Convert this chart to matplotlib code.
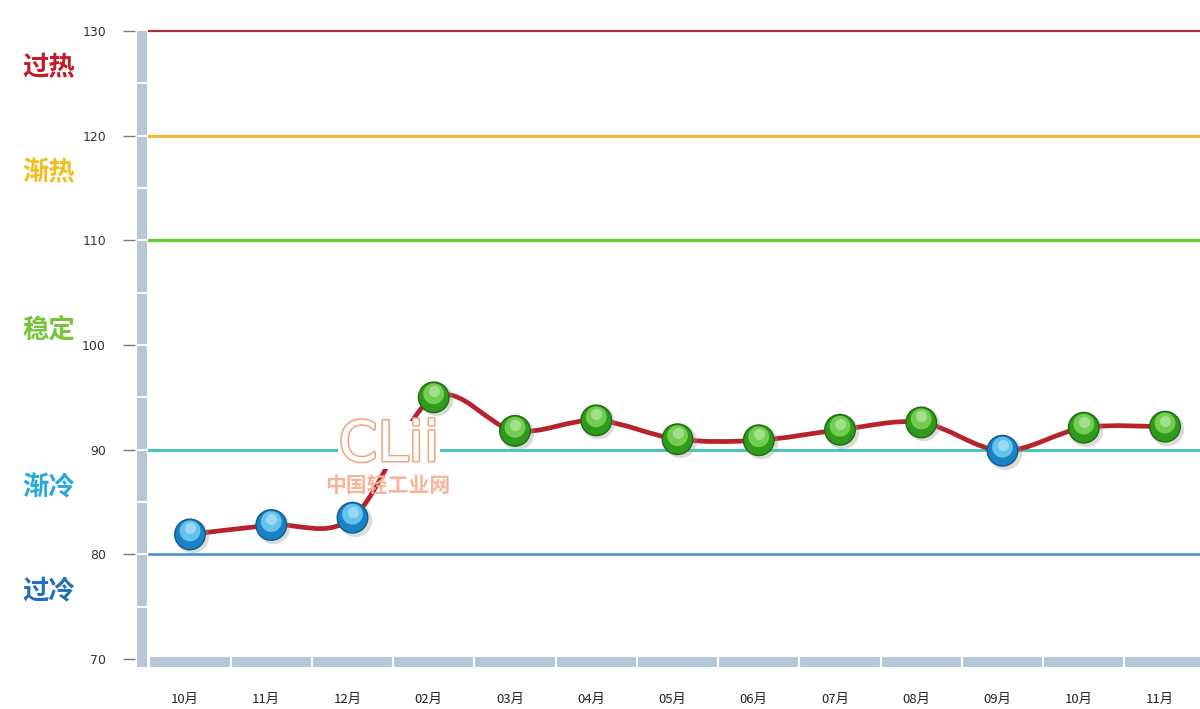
import matplotlib
matplotlib.use("Agg")
import matplotlib.pyplot as plt
import matplotlib.transforms as mtransforms
from matplotlib.path import Path
from matplotlib.patches import PathPatch, Rectangle
import matplotlib.patheffects as pe
import numpy as np

plt.rcParams['font.family'] = ['Noto Sans CJK SC', 'DejaVu Sans']

# ---------------- data ----------------
months = ["10月", "11月", "12月", "02月", "03月", "04月", "05月",
          "06月", "07月", "08月", "09月", "10月", "11月"]
values = [81.9, 82.8, 83.5, 95.0, 91.8, 92.8, 91.0, 90.9, 91.9, 92.6, 89.9, 92.1, 92.2]

level_values = [130, 120, 110, 90, 80]
level_colors = ["#a8323c", "#f5b93a", "#6acb3a", "#4cc4c0", "#3f8fcf"]
level_widths = [1.6, 2.2, 2.4, 2.2, 1.8]

zone_names = ["过热", "渐热", "稳定", "渐冷", "过冷"]
zone_pos = [126.5, 116.5, 101.4, 86.3, 76.4]
zone_colors = ["#c41a2c", "#f0c020", "#76c43a", "#2aa8d8", "#2470b8"]

yticks = [70, 80, 90, 100, 110, 120, 130]

# ---------------- figure ----------------
W, H = 1200, 709
fig = plt.figure(figsize=(W / 100, H / 100), dpi=100)
fig.patch.set_facecolor("white")

ppu = 628 / 60.0  # pixels per y unit
y_bot_px = 659 + 1.5 * ppu
y_top_px = 31 - 1.0 * ppu
ax = fig.add_axes([149 / W, (H - y_bot_px) / H, (W - 149) / W, (y_bot_px - y_top_px) / H])
ax.set_ylim(68.5, 131)
xpu = 81.25
ax.set_xlim(-(190 - 149) / xpu, (1200 - 190) / xpu)
for s in ax.spines.values():
    s.set_visible(False)
ax.set_facecolor("none")

# y ticks (left of the grey bar)
ax.spines['left'].set_position(('outward', 10))
ax.set_yticks(yticks)
ax.set_yticklabels([str(v) for v in yticks])
ax.tick_params(axis='y', length=9, width=1, color="#777777", pad=12,
               labelsize=9, labelcolor="#333333")
for lab in ax.get_yticklabels():
    lab.set_family("DejaVu Sans")

# x ticks
x = np.arange(len(months))
ax.set_xticks(x)
ax.set_xticklabels(months)
ax.tick_params(axis='x', length=0, pad=13, labelsize=9.5, labelcolor="#222222")
for lab in ax.get_xticklabels():
    lab.set_fontweight("medium")
    lab.set_transform(lab.get_transform() + mtransforms.ScaledTranslation(-5 / 100, 0, fig.dpi_scale_trans))

# grey frame bars
bar_col = "#b7c7da"
tr_fx = mtransforms.blended_transform_factory(fig.transFigure, ax.transData)
ax.add_patch(Rectangle((137 / W, 69.6), 10 / W, 130 - 69.6, transform=tr_fx,
                       facecolor=bar_col, edgecolor="none", clip_on=False, zorder=1))
for v in np.arange(75, 130, 5):
    ax.plot([137 / W, 147 / W], [v, v], transform=tr_fx, color="white", lw=1.5,
            clip_on=False, zorder=1.5)
ax.add_patch(Rectangle((137 / W, 69.25), 10 / W, 0.85, transform=tr_fx,
                       facecolor=bar_col, edgecolor="none", clip_on=False, zorder=1))
ax.add_patch(Rectangle((-0.5, 69.25), 14, 0.95, facecolor=bar_col, edgecolor="none",
                       clip_on=True, zorder=1))
for k in range(len(months) + 1):
    ax.plot([k - 0.5, k - 0.5], [69.25, 70.2], color="white", lw=1.5, zorder=1.5)

# level lines
for v, c, lw in zip(level_values, level_colors, level_widths):
    ax.axhline(v, color=c, lw=lw, zorder=2, clip_on=False)

# zone labels
for name, yv, c in zip(zone_names, zone_pos, zone_colors):
    ax.text(22 / W, yv, name, transform=tr_fx, color=c, fontsize=19,
            fontweight="bold", ha="left", va="center", clip_on=False)

# smooth line (Catmull-Rom -> cubic Bezier)
pts = np.column_stack([x, values]).astype(float)
verts = [tuple(pts[0])]
codes = [Path.MOVETO]
n = len(pts)
for i in range(n - 1):
    p0 = pts[i - 1] if i > 0 else pts[i]
    p1 = pts[i]
    p2 = pts[i + 1]
    p3 = pts[i + 2] if i + 2 < n else pts[i + 1]
    c1 = p1 + (p2 - p0) / 6.0
    c2 = p2 - (p3 - p1) / 6.0
    verts += [tuple(c1), tuple(c2), tuple(p2)]
    codes += [Path.CURVE4] * 3
ax.add_patch(PathPatch(Path(verts, codes), facecolor="none", edgecolor="#b8222a",
                       lw=3.4, zorder=3, capstyle="round", joinstyle="round"))

# markers (glossy balls)
vals = np.array(values)
base_cols = np.where(vals >= 90, "#2f9a1c", "#1a82c4")
edge_cols = np.where(vals >= 90, "#1f6a12", "#0f5a8e")
hi_cols = np.where(vals >= 90, "#7fd85a", "#6fd0f4")
shadow_tr = ax.transData + mtransforms.ScaledTranslation(2 / 100, -2 / 100, fig.dpi_scale_trans)
ax.scatter(x, vals, s=24 ** 2, color="#999999", alpha=0.35, linewidths=0,
           transform=shadow_tr, zorder=4)
ax.scatter(x, vals, s=22 ** 2, c=list(base_cols), edgecolors=list(edge_cols),
           linewidths=1.0, zorder=5)
hi_tr = ax.transData + mtransforms.ScaledTranslation(0, 3.5 / 100, fig.dpi_scale_trans)
ax.scatter(x, vals, s=15 ** 2, c=list(hi_cols), linewidths=0, alpha=0.85,
           transform=hi_tr, zorder=6)
hi_tr2 = ax.transData + mtransforms.ScaledTranslation(0, 6 / 100, fig.dpi_scale_trans)
ax.scatter(x, vals, s=8 ** 2, c="white", linewidths=0, alpha=0.35,
           transform=hi_tr2, zorder=6)

# watermark
ax.add_patch(Rectangle((338 / W, 88.2), 102 / W, 4.5, transform=tr_fx,
                       facecolor="white", edgecolor="none", zorder=7, clip_on=False))
fig.text(389 / W, (H - 446) / H, "CLii", ha="center", va="center", fontsize=40,
         family="DejaVu Sans", color="white", zorder=8,
         path_effects=[pe.Stroke(linewidth=2.2, foreground="#f3a27c"), pe.Normal()])
fig.text(388 / W, (H - 486) / H, "中国轻工业网", ha="center", va="center", fontsize=15,
         fontweight="bold", color="#f6b596", zorder=8)

fig.savefig("out.png", dpi=100, facecolor="white")
